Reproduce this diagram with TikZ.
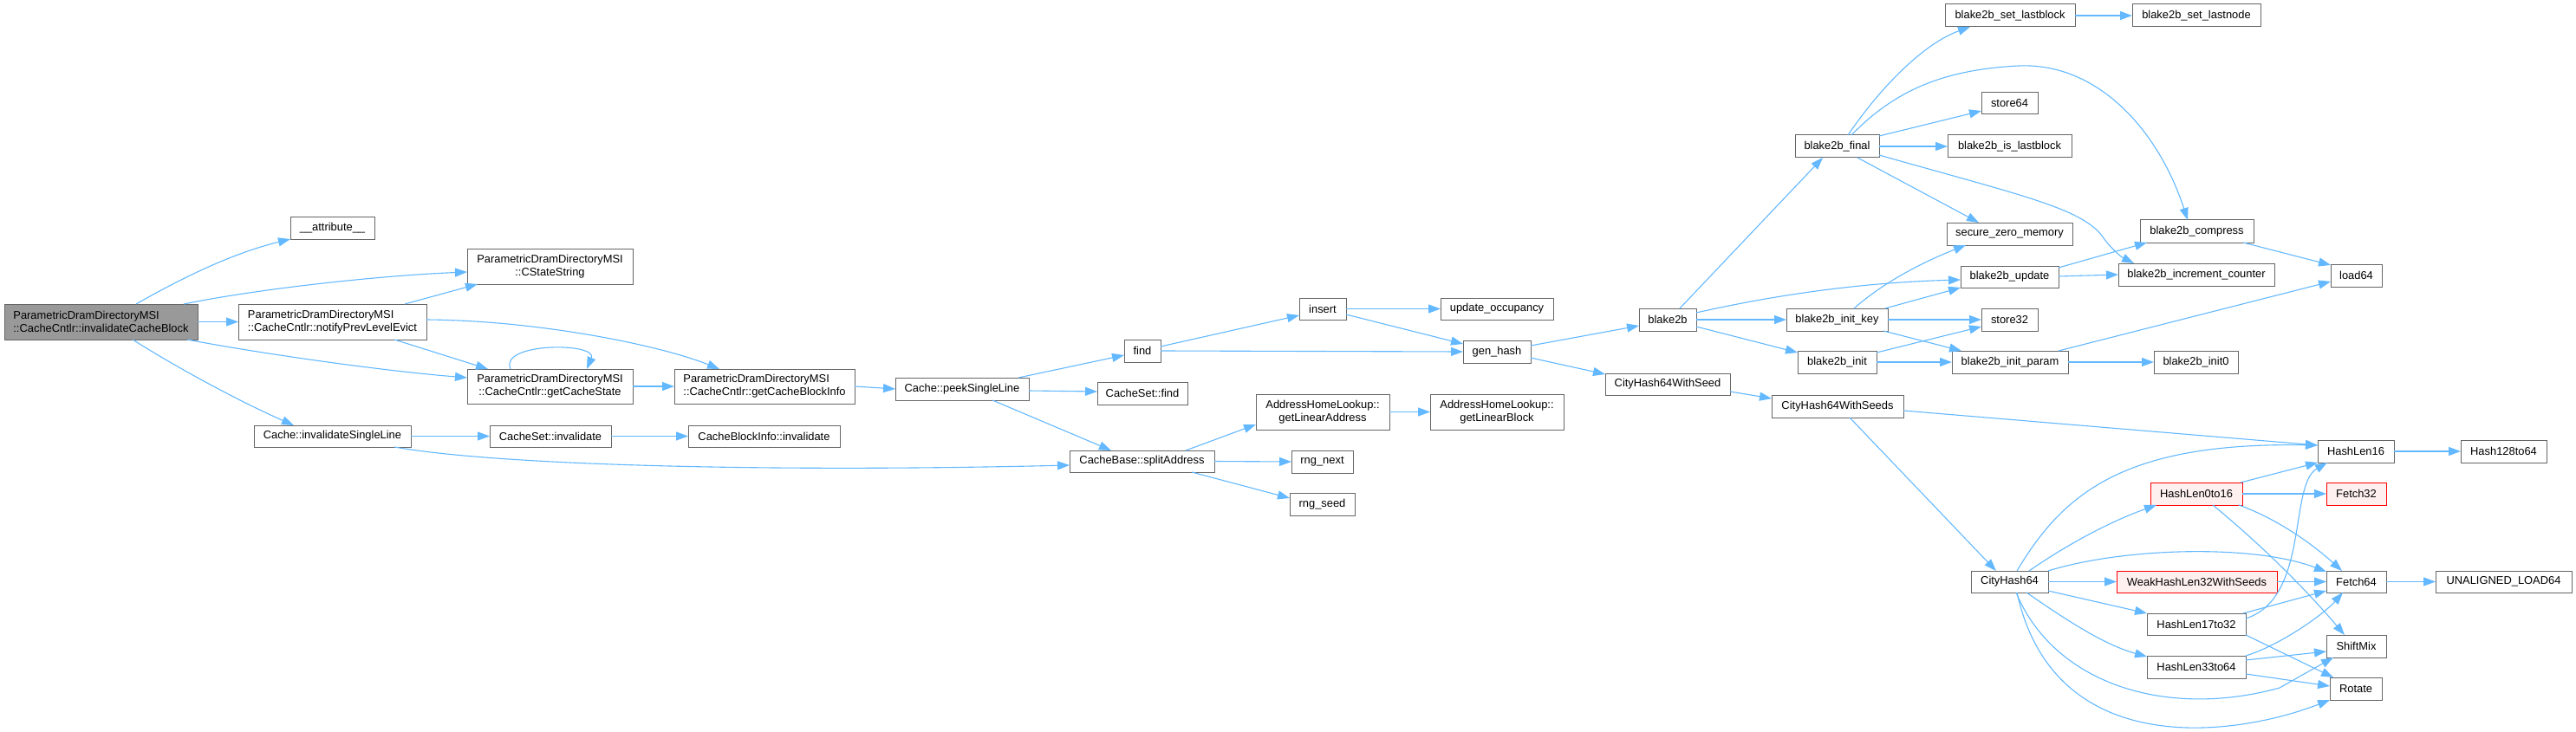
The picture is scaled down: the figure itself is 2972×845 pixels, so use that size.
\documentclass[tikz,border=0pt]{standalone}
\usepackage{fontspec}
\setmainfont{Liberation Sans}
\usetikzlibrary{arrows.meta}
\definecolor{edgec}{HTML}{63B8FF}
\definecolor{bordc}{HTML}{666666}
\definecolor{mainc}{HTML}{999999}
\definecolor{redfill}{HTML}{FFF0F0}
\definecolor{redbord}{HTML}{FF0000}
\tikzset{
 gbox/.style={draw=bordc, line width=1pt, fill=white, inner sep=0pt, outer sep=0pt, font=\fontsize{12.9}{14.7}\selectfont, text=black, align=center},
 mainbox/.style={gbox, fill=mainc},
 redbox/.style={gbox, draw=redbord, fill=redfill},
 edge/.style={draw=edgec, line width=1.1pt, -{Triangle[length=14pt,width=10pt]}},
}
\newcommand\gnode[7]{\node[#6, minimum width={(#4-#2)*1pt}, minimum height={(#5-#3)*1pt}] (#1) at ({(#2+#4)/2},{(#3+#5)/2}) {#7};}
\begin{document}
\begin{tikzpicture}[x=1pt,y=-1pt]
\useasboundingbox (0,0) rectangle (2972,845);
\gnode{main}{5}{351}{228}{392}{mainbox, align=left}{ParametricDramDirectoryMSI\\::CacheCntlr::invalidateCacheBlock}
\gnode{attr}{335}{251}{432}{276}{gbox}{\_\_attribute\_\_}
\gnode{cstate}{539}{287}{730}{328}{gbox}{ParametricDramDirectoryMSI\\::CStateString}
\gnode{notify}{275}{351}{492}{392}{gbox, align=left}{ParametricDramDirectoryMSI\\::CacheCntlr::notifyPrevLevelEvict}
\gnode{getstate}{539}{426}{730}{466}{gbox}{ParametricDramDirectoryMSI\\::CacheCntlr::getCacheState}
\gnode{getblock}{778}{426}{986}{466}{gbox, align=left}{ParametricDramDirectoryMSI\\::CacheCntlr::getCacheBlockInfo}
\gnode{invsl}{293}{491}{474}{516}{gbox}{Cache::invalidateSingleLine}
\gnode{csinv}{565}{491}{705}{516}{gbox}{CacheSet::invalidate}
\gnode{cbinv}{794}{491}{969}{516}{gbox}{CacheBlockInfo::invalidate}
\gnode{peek}{1033}{436}{1187}{462}{gbox}{Cache::peekSingleLine}
\gnode{find}{1297}{392}{1339}{418}{gbox}{find}
\gnode{csfind}{1266}{441}{1370}{467}{gbox}{CacheSet::find}
\gnode{split}{1234}{520}{1401}{545}{gbox}{CacheBase::splitAddress}
\gnode{insert}{1499}{344}{1553}{369}{gbox}{insert}
\gnode{gladdr}{1449}{455}{1603}{496}{gbox}{AddressHomeLookup::\\getLinearAddress}
\gnode{rngnext}{1490}{520}{1561}{546}{gbox}{rng\_next}
\gnode{rngseed}{1488}{569}{1563}{595}{gbox}{rng\_seed}
\gnode{updocc}{1662}{344}{1792}{369}{gbox}{update\_occupancy}
\gnode{genhash}{1688}{393}{1766}{419}{gbox}{gen\_hash}
\gnode{glblock}{1650}{455}{1804}{496}{gbox}{AddressHomeLookup::\\getLinearBlock}
\gnode{blake}{1891}{356}{1957}{382}{gbox}{blake2b}
\gnode{chws}{1852}{431}{1996}{456}{gbox}{CityHash64WithSeed}
\gnode{final}{2071}{156}{2168}{182}{gbox}{blake2b\_final}
\gnode{initkey}{2061}{356}{2178}{382}{gbox}{blake2b\_init\_key}
\gnode{init}{2074}{405}{2165}{431}{gbox}{blake2b\_init}
\gnode{chwss}{2044}{456}{2196}{482}{gbox}{CityHash64WithSeeds}
\gnode{setlb}{2244}{5}{2394}{31}{gbox}{blake2b\_set\_lastblock}
\gnode{store64}{2286}{107}{2351}{132}{gbox}{store64}
\gnode{islb}{2247}{156}{2390}{182}{gbox}{blake2b\_is\_lastblock}
\gnode{szm}{2246}{257}{2391}{283}{gbox}{secure\_zero\_memory}
\gnode{update}{2262}{307}{2375}{332}{gbox}{blake2b\_update}
\gnode{store32}{2286}{356}{2351}{382}{gbox}{store32}
\gnode{iparam}{2252}{405}{2386}{431}{gbox}{blake2b\_init\_param}
\gnode{ch64}{2274}{659}{2363}{684}{gbox}{CityHash64}
\gnode{setln}{2460}{5}{2608}{31}{gbox}{blake2b\_set\_lastnode}
\gnode{compress}{2469}{254}{2600}{280}{gbox}{blake2b\_compress}
\gnode{incr}{2444}{304}{2624}{330}{gbox}{blake2b\_increment\_counter}
\gnode{init0}{2485}{405}{2582}{431}{gbox}{blake2b\_init0}
\gnode{hl0}{2481}{557}{2587}{583}{redbox}{HashLen0to16}
\gnode{weak}{2442}{659}{2627}{684}{redbox}{WeakHashLen32WithSeeds}
\gnode{hl17}{2477}{708}{2591}{733}{gbox}{HashLen17to32}
\gnode{hl33}{2477}{757}{2591}{783}{gbox}{HashLen33to64}
\gnode{load64}{2689}{305}{2748}{331}{gbox}{load64}
\gnode{hl16}{2674}{508}{2762}{534}{gbox}{HashLen16}
\gnode{fetch32}{2684}{557}{2753}{583}{redbox}{Fetch32}
\gnode{fetch64}{2684}{659}{2753}{684}{gbox}{Fetch64}
\gnode{shiftmix}{2684}{733}{2753}{759}{gbox}{ShiftMix}
\gnode{rotate}{2688}{782}{2748}{808}{gbox}{Rotate}
\gnode{h128}{2839}{508}{2938}{534}{gbox}{Hash128to64}
\gnode{unal}{2810}{659}{2967}{684}{gbox}{UNALIGNED\_LOAD64}
% edges
\draw[edge] ([xshift=152pt]main.north west) .. controls (215,318) and (270,292) .. (attr.south west);
\draw[edge] ([xshift=207pt]main.north west) .. controls (300,333) and (440,318) .. ([yshift=-27pt]cstate.north west);
\draw[edge] (main.east) -- (notify.west);
\draw[edge] ([xshift=211pt]main.south west) .. controls (300,408) and (440,428) .. ([yshift=-10pt]getstate.north west);
\draw[edge] ([xshift=148pt]main.south west) .. controls (210,428) and (280,465) .. ([xshift=46pt]invsl.north west);
\draw[edge] ([xshift=192pt]notify.north west) -- ([xshift=12pt]cstate.south west);
\draw[edge] ([yshift=-18pt]notify.north east) .. controls (620,370) and (760,398) .. ([xshift=52pt]getblock.north west);
\draw[edge] ([xshift=180pt]notify.south west) -- ([xshift=24pt]getstate.north west);
\draw[edge] ([xshift=50pt]getstate.north west) .. controls (575,395) and (690,395) .. ([xshift=138pt]getstate.north west);
\draw[edge] (getstate.east) -- (getblock.west);
\draw[edge] (getblock.east) -- (peek.west);
\draw[edge] (invsl.east) -- (csinv.west);
\draw[edge] (csinv.east) -- (cbinv.west);
\draw[edge] ([xshift=162pt]invsl.south west) .. controls (580,538) and (900,545) .. ([yshift=-17pt]split.north west);
\draw[edge] ([xshift=142pt]peek.north west) -- ([yshift=-18pt]find.north west);
\draw[edge] ([yshift=-15pt]peek.north east) -- ([yshift=-11pt]csfind.north west);
\draw[edge] ([xshift=112pt]peek.south west) -- ([xshift=48pt]split.north west);
\draw[edge] ([yshift=-8pt]find.north east) -- ([yshift=-20pt]insert.north west);
\draw[edge] ([yshift=-13pt]find.north east) -- ([yshift=-13pt]genhash.north west);
\draw[edge] (insert.east) -- (updocc.west);
\draw[edge] ([yshift=-19pt]insert.north east) -- ([yshift=-4pt]genhash.north west);
\draw[edge] ([xshift=134pt]split.north west) -- ([yshift=-35pt]gladdr.north west);
\draw[edge] (split.east) -- (rngnext.west);
\draw[edge] ([xshift=141pt]split.south west) -- ([yshift=-6pt]rngseed.north west);
\draw[edge] (gladdr.east) -- (glblock.west);
\draw[edge] ([yshift=-6pt]genhash.north east) -- ([yshift=-20pt]blake.north west);
\draw[edge] ([yshift=-20pt]genhash.north east) -- ([yshift=-1pt]chws.north west);
\draw[edge] ([xshift=47pt]blake.north west) -- ([xshift=32pt]final.south west);
\draw[edge] ([yshift=-5pt]blake.north east) .. controls (2050,340) and (2150,326) .. ([yshift=-16pt]update.north west);
\draw[edge] (blake.east) -- (initkey.west);
\draw[edge] ([yshift=-21pt]blake.north east) -- ([yshift=-2pt]init.north west);
\draw[edge] ([xshift=61pt]final.north west) .. controls (2170,100) and (2220,50) .. ([xshift=29pt]setlb.south west);
\draw[edge] ([xshift=65pt]final.north west) .. controls (2190,100) and (2250,80) .. (2329,76) .. controls (2420,72) and (2490,150) .. ([xshift=55pt]compress.north west);
\draw[edge] ([yshift=-1pt]final.north east) -- ([yshift=-21pt]store64.north west);
\draw[edge] (final.east) -- (islb.west);
\draw[edge] ([xshift=72pt]final.south west) -- ([xshift=37pt]szm.north west);
\draw[edge] ([yshift=-23pt]final.north east) .. controls (2330,225) and (2400,240) .. (2425,272) .. controls (2435,287) and (2448,297) .. ([xshift=18pt]incr.north west);
\draw[edge] (setlb.east) -- (setln.west);
\draw[edge] ([yshift=-2pt]update.north east) -- ([xshift=8pt]compress.south west);
\draw[edge] ([yshift=-12pt]update.north east) -- ([yshift=-13pt]incr.north west);
\draw[edge] ([xshift=119pt]compress.south west) -- ([yshift=-1pt]load64.north west);
\draw[edge] ([xshift=78pt]initkey.north west) .. controls (2180,320) and (2230,298) .. ([xshift=22pt]szm.south west);
\draw[edge] ([xshift=114pt]initkey.north west) -- (update.south west);
\draw[edge] (initkey.east) -- (store32.west);
\draw[edge] ([xshift=112pt]initkey.south west) -- ([xshift=11pt]iparam.north west);
\draw[edge] ([yshift=-2pt]init.north east) -- ([yshift=-21pt]store32.north west);
\draw[edge] (init.east) -- (iparam.west);
\draw[edge] ([xshift=123pt]iparam.north west) -- ([yshift=-20pt]load64.north west);
\draw[edge] (iparam.east) -- (init0.west);
\draw[edge] ([yshift=-21pt]chws.north east) -- ([yshift=-4pt]chwss.north west);
\draw[edge] ([yshift=-18pt]chwss.north east) -- ([yshift=-6pt]hl16.north west);
\draw[edge] ([xshift=90pt]chwss.south west) -- ([xshift=29pt]ch64.north west);
\draw[edge] ([xshift=53pt]ch64.north west) .. controls (2380,570) and (2450,510) .. ([yshift=-6pt]hl16.north west);
\draw[edge] ([xshift=67pt]ch64.north west) .. controls (2390,625) and (2440,600) .. ([xshift=7pt]hl0.south west);
\draw[edge] (ch64.north east) .. controls (2450,632) and (2600,628) .. ([yshift=-1pt]fetch64.north west);
\draw[edge] (ch64.east) -- (weak.west);
\draw[edge] ([yshift=-23pt]ch64.north east) -- (hl17.north west);
\draw[edge] ([xshift=64pt]ch64.south west) .. controls (2390,720) and (2430,745) .. ([yshift=-1pt]hl33.north west);
\draw[edge] ([xshift=52pt]ch64.south west) .. controls (2370,790) and (2500,830) .. (2630,794) -- ([xshift=8pt]shiftmix.south west);
\draw[edge] ([xshift=53pt]ch64.south west) .. controls (2370,880) and (2580,850) .. (rotate.south west);
\draw[edge] (hl16.east) -- (h128.west);
\draw[edge] ([xshift=104pt]hl0.north west) -- (hl16.south west);
\draw[edge] (hl0.east) -- (fetch32.west);
\draw[edge] ([xshift=-4pt]hl0.south east) .. controls (2630,600) and (2670,630) .. ([xshift=18pt]fetch64.north west);
\draw[edge] ([xshift=72pt]hl0.south west) .. controls (2610,630) and (2660,680) .. ([xshift=21pt]shiftmix.north west);
\draw[edge] (weak.east) -- (fetch64.west);
\draw[edge] ([xshift=111pt]hl17.north west) -- ([yshift=-23pt]fetch64.north west);
\draw[edge] ([yshift=-6pt]hl17.north east) .. controls (2665,690) and (2640,560) .. ([xshift=11pt]hl16.south west);
\draw[edge] ([yshift=-25pt]hl17.north east) -- ([xshift=4pt]rotate.north west);
\draw[edge] (hl33.north east) .. controls (2630,745) and (2680,710) .. ([xshift=19pt]fetch64.south west);
\draw[edge] ([yshift=-5pt]hl33.north east) -- ([yshift=-19pt]shiftmix.north west);
\draw[edge] ([yshift=-21pt]hl33.north east) -- ([yshift=-10pt]rotate.north west);
\draw[edge] (fetch64.east) -- (unal.west);
\end{tikzpicture}
\end{document}
